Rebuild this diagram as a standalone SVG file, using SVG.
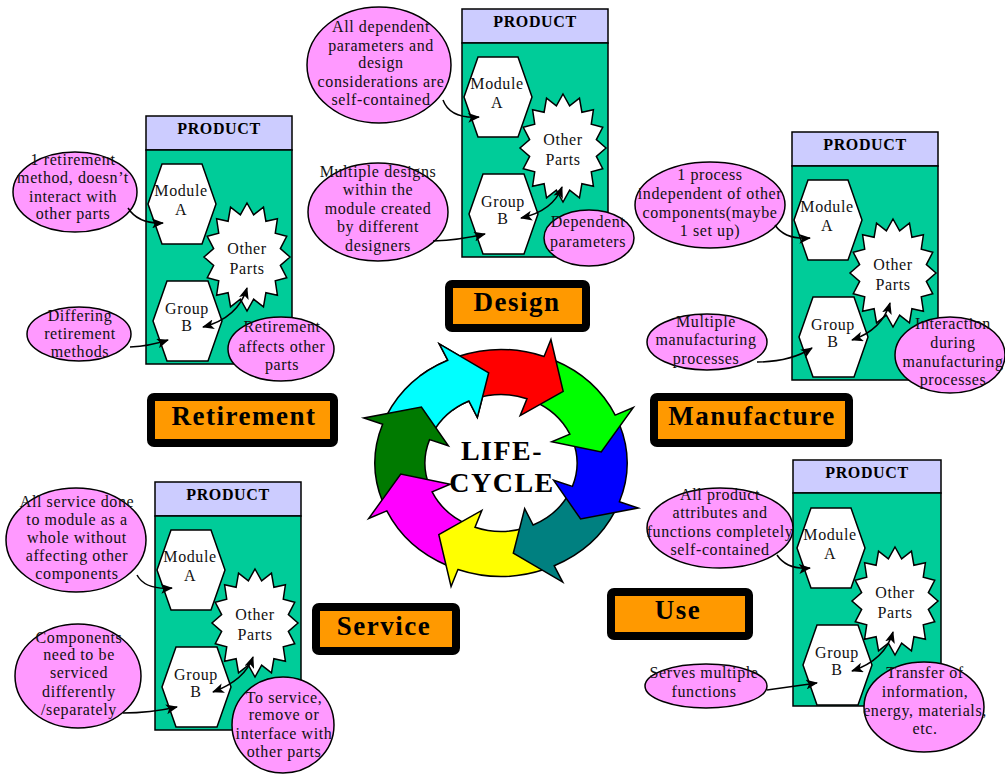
<svg xmlns="http://www.w3.org/2000/svg" width="1005" height="774" viewBox="0 0 1005 774">
<style>
.t{font-family:"Liberation Serif","Times New Roman",serif;font-size:16px;letter-spacing:0.6px;text-anchor:middle;fill:#111}
.pt{font-family:"Liberation Serif","Times New Roman",serif;font-size:16px;font-weight:bold;letter-spacing:0.6px;text-anchor:middle;fill:#000}
.lbl{font-family:"Liberation Serif","Times New Roman",serif;font-size:27px;font-weight:bold;letter-spacing:1.5px;text-anchor:middle;fill:#000}
.life{font-family:"Liberation Serif","Times New Roman",serif;font-size:28px;font-weight:bold;letter-spacing:1.5px;text-anchor:middle;fill:#000}
.hdr{fill:#CCCCFF;stroke:#000;stroke-width:1.5}
.bdy{fill:#00CC99;stroke:#000;stroke-width:1.5}
.hex{fill:#fff;stroke:#000;stroke-width:1.5}
.box{fill:#FF9900;stroke:#000;stroke-width:8}
.call{fill:#FF99FF;stroke:#000;stroke-width:1.5}
.con{fill:none;stroke:#000;stroke-width:1.5;marker-end:url(#ah)}
.dbl{fill:none;stroke:#000;stroke-width:1.5;marker-start:url(#ah);marker-end:url(#ah)}
</style>
<defs>
<marker id="ah" viewBox="0 0 12 10" refX="11" refY="5" markerWidth="12" markerHeight="10" markerUnits="userSpaceOnUse" orient="auto-start-reverse">
<path d="M0,0 L12,5 L0,10 L3,5 Z" fill="#000"/>
</marker>
<polygon id="hexA" points="2,88 16,48 56,48 70,88 56,128 16,128"/>
<polygon id="hexB" points="7,205 21,165 62,165 76,205 62,245 21,245"/>
<polygon id="star" points="0,-54 6.63,-42.17 16.46,-49.89 18.89,-35.75 30.41,-38.18 28.27,-23.89 39.73,-20.67 33.35,-8.39 43,0 33.35,8.39 39.73,20.67 28.27,23.89 30.41,38.18 18.89,35.75 16.46,49.89 6.63,42.17 0,54 -6.63,42.17 -16.46,49.89 -18.89,35.75 -30.41,38.18 -28.27,23.89 -39.73,20.67 -33.35,8.39 -43,0 -33.35,-8.39 -39.73,-20.67 -28.27,-23.89 -30.41,-38.18 -18.89,-35.75 -16.46,-49.89 -6.63,-42.17"/>
<path id="arw" d="M-43.09,-118.4 A126,126 0 0 1 43.09,-118.4 L49.93,-137.2 L62.19,-79.59 L19.15,-52.62 L25.99,-71.42 A76,76 0 0 0 -25.99,-71.42 Z" stroke="#000" stroke-width="1.5" vector-effect="non-scaling-stroke" stroke-linejoin="miter"/>
<clipPath id="wedge"><polygon points="0,0 -141.4,-168.5 0,-240 56.9,-212.5"/></clipPath>
</defs>

<!-- Life cycle -->
<g id="lifecycle">
<g transform="translate(501,463) scale(1,0.9)">
<use href="#arw" fill="#00FFFF" transform="rotate(315)"/>
<use href="#arw" fill="#007A00" transform="rotate(270)"/>
<use href="#arw" fill="#FF00FF" transform="rotate(225)"/>
<use href="#arw" fill="#FFFF00" transform="rotate(180)"/>
<use href="#arw" fill="#008080" transform="rotate(135)"/>
<use href="#arw" fill="#0000FF" transform="rotate(90)"/>
<use href="#arw" fill="#00FF00" transform="rotate(45)"/>
<use href="#arw" fill="#FF0000"/>
<g clip-path="url(#wedge)"><use href="#arw" fill="#00FFFF" transform="rotate(315)"/></g>
</g>
<text class="life" x="502" y="460">LIFE-</text>
<text class="life" x="502" y="492">CYCLE</text>
</g>

<!-- Phase labels -->
<g id="label-design"><rect class="box" x="449" y="284" width="137" height="44" rx="3"/><text class="lbl" x="517" y="311">Design</text></g>
<g id="label-retirement"><rect class="box" x="151" y="397" width="183" height="46" rx="3"/><text class="lbl" x="244" y="425">Retirement</text></g>
<g id="label-manufacture"><rect class="box" x="654" y="397" width="195" height="46" rx="3"/><text class="lbl" x="752" y="425">Manufacture</text></g>
<g id="label-service"><rect class="box" x="316" y="607" width="140" height="44" rx="3"/><text class="lbl" x="384" y="635">Service</text></g>
<g id="label-use"><rect class="box" x="611" y="592" width="138" height="44" rx="3"/><text class="lbl" x="678" y="619">Use</text></g>

<!-- Product panels -->
<g id="panel-design" transform="translate(462,9)">
<rect class="hdr" x="0" y="0" width="146" height="34"/><rect class="bdy" x="0" y="34" width="146" height="214"/>
<text class="pt" x="73" y="18">PRODUCT</text>
<use href="#hexA" class="hex"/><text class="t" x="35" y="80">Module</text><text class="t" x="35" y="99">A</text>
<use href="#star" class="hex" x="101" y="139"/><text class="t" x="101" y="136">Other</text><text class="t" x="101" y="156">Parts</text>
<use href="#hexB" class="hex"/><text class="t" x="41" y="198">Group</text><text class="t" x="41" y="215">B</text>
</g>
<g id="panel-retirement" transform="translate(146,116)">
<rect class="hdr" x="0" y="0" width="146" height="34"/><rect class="bdy" x="0" y="34" width="146" height="214"/>
<text class="pt" x="73" y="18">PRODUCT</text>
<use href="#hexA" class="hex"/><text class="t" x="35" y="80">Module</text><text class="t" x="35" y="99">A</text>
<use href="#star" class="hex" x="101" y="141"/><text class="t" x="101" y="138">Other</text><text class="t" x="101" y="158">Parts</text>
<use href="#hexB" class="hex"/><text class="t" x="41" y="198">Group</text><text class="t" x="41" y="215">B</text>
</g>
<g id="panel-manufacture" transform="translate(792,132)">
<rect class="hdr" x="0" y="0" width="146" height="34"/><rect class="bdy" x="0" y="34" width="146" height="214"/>
<text class="pt" x="73" y="18">PRODUCT</text>
<use href="#hexA" class="hex"/><text class="t" x="35" y="80">Module</text><text class="t" x="35" y="99">A</text>
<use href="#star" class="hex" x="101" y="141"/><text class="t" x="101" y="138">Other</text><text class="t" x="101" y="158">Parts</text>
<use href="#hexB" class="hex"/><text class="t" x="41" y="198">Group</text><text class="t" x="41" y="215">B</text>
</g>
<g id="panel-service" transform="translate(155,482)">
<rect class="hdr" x="0" y="0" width="146" height="34"/><rect class="bdy" x="0" y="34" width="146" height="214"/>
<text class="pt" x="73" y="18">PRODUCT</text>
<use href="#hexA" class="hex"/><text class="t" x="35" y="80">Module</text><text class="t" x="35" y="99">A</text>
<use href="#star" class="hex" x="100" y="141"/><text class="t" x="100" y="138">Other</text><text class="t" x="100" y="158">Parts</text>
<use href="#hexB" class="hex"/><text class="t" x="41" y="198">Group</text><text class="t" x="41" y="215">B</text>
</g>
<g id="panel-use" transform="translate(793,460)">
<rect class="hdr" x="0" y="0" width="148" height="33"/><rect class="bdy" x="0" y="33" width="148" height="213"/>
<text class="pt" x="74" y="18">PRODUCT</text>
<use href="#hexA" class="hex" x="2"/><text class="t" x="37" y="80">Module</text><text class="t" x="37" y="99">A</text>
<use href="#star" class="hex" x="102" y="141"/><text class="t" x="102" y="138">Other</text><text class="t" x="102" y="158">Parts</text>
<use href="#hexB" class="hex" x="3"/><text class="t" x="44" y="198">Group</text><text class="t" x="44" y="215">B</text>
</g>

<!-- Callouts: Design -->
<g id="note-design-1"><ellipse class="call" cx="379" cy="65" rx="72" ry="58"/>
<text class="t" x="381" y="32">All dependent</text><text class="t" x="381" y="51">parameters and</text><text class="t" x="381" y="68">design</text><text class="t" x="381" y="87">considerations are</text><text class="t" x="381" y="105">self-contained</text></g>
<g id="note-design-2"><ellipse class="call" cx="378" cy="212" rx="70" ry="49"/>
<text class="t" x="378" y="177">Multiple designs</text><text class="t" x="378" y="195">within the</text><text class="t" x="378" y="214">module created</text><text class="t" x="378" y="232">by different</text><text class="t" x="378" y="251">designers</text></g>
<g id="note-design-3"><ellipse class="call" cx="589" cy="238" rx="45" ry="28"/>
<text class="t" x="588" y="227">Dependent</text><text class="t" x="588" y="247">parameters</text></g>

<!-- Callouts: Retirement -->
<g id="note-ret-1"><ellipse class="call" cx="75" cy="192" rx="62" ry="40"/>
<text class="t" x="73" y="165">1 retirement</text><text class="t" x="73" y="183">method, doesn’t</text><text class="t" x="73" y="202">interact with</text><text class="t" x="73" y="219">other parts</text></g>
<g id="note-ret-2"><ellipse class="call" cx="79" cy="334" rx="52" ry="27"/>
<text class="t" x="80" y="321">Differing</text><text class="t" x="80" y="339">retirement</text><text class="t" x="80" y="357">methods</text></g>
<g id="note-ret-3"><ellipse class="call" cx="281" cy="349" rx="53" ry="32"/>
<text class="t" x="282" y="332">Retirement</text><text class="t" x="282" y="352">affects other</text><text class="t" x="282" y="370">parts</text></g>

<!-- Callouts: Manufacture -->
<g id="note-man-1"><ellipse class="call" cx="710" cy="205" rx="75" ry="43"/>
<text class="t" x="710" y="180">1 process</text><text class="t" x="710" y="199">independent of other</text><text class="t" x="710" y="218">components(maybe</text><text class="t" x="710" y="236">1 set up)</text></g>
<g id="note-man-2"><ellipse class="call" cx="707" cy="342" rx="60" ry="28"/>
<text class="t" x="706" y="327">Multiple</text><text class="t" x="706" y="345">manufacturing</text><text class="t" x="706" y="364">processes</text></g>
<g id="note-man-3"><ellipse class="call" cx="950" cy="355" rx="55" ry="38"/>
<text class="t" x="953" y="329">Interaction</text><text class="t" x="953" y="348">during</text><text class="t" x="953" y="367">manufacturing</text><text class="t" x="953" y="385">processes</text></g>

<!-- Callouts: Service -->
<g id="note-svc-1"><ellipse class="call" cx="76" cy="540" rx="70" ry="52"/>
<text class="t" x="77" y="507">All service done</text><text class="t" x="77" y="525">to module as a</text><text class="t" x="77" y="543">whole without</text><text class="t" x="77" y="561">affecting other</text><text class="t" x="77" y="579">components</text></g>
<g id="note-svc-2"><ellipse class="call" cx="78" cy="676" rx="63" ry="52"/>
<text class="t" x="79" y="643">Components</text><text class="t" x="79" y="660">need to be</text><text class="t" x="79" y="678">serviced</text><text class="t" x="79" y="697">differently</text><text class="t" x="79" y="715">/separately</text></g>
<g id="note-svc-3"><ellipse class="call" cx="283" cy="725" rx="51" ry="48"/>
<text class="t" x="284" y="703">To service,</text><text class="t" x="284" y="720">remove or</text><text class="t" x="284" y="739">interface with</text><text class="t" x="284" y="757">other parts</text></g>

<!-- Callouts: Use -->
<g id="note-use-1"><ellipse class="call" cx="720" cy="528" rx="73" ry="40"/>
<text class="t" x="720" y="500">All product</text><text class="t" x="720" y="518">attributes and</text><text class="t" x="720" y="537">functions completely</text><text class="t" x="720" y="555">self-contained</text></g>
<g id="note-use-2"><ellipse class="call" cx="706" cy="686" rx="61" ry="22"/>
<text class="t" x="704" y="678">Serves multiple</text><text class="t" x="704" y="697">functions</text></g>
<g id="note-use-3"><ellipse class="call" cx="924" cy="707" rx="60" ry="45"/>
<text class="t" x="925" y="678">Transfer of</text><text class="t" x="925" y="697">information,</text><text class="t" x="925" y="716">energy, materials,</text><text class="t" x="925" y="734">etc.</text></g>

<!-- Connectors -->
<g id="connectors">
<path class="con" d="M443,100 Q450,119 479,117"/>
<path class="con" d="M433,241 Q460,240 485,234"/>
<path class="dbl" d="M521,218 Q553,211 562,187"/>
<path class="con" d="M128,208 Q138,224 163,223"/>
<path class="con" d="M130,347 Q150,346 168,340"/>
<path class="dbl" d="M203,327 Q238,318 247,288"/>
<path class="con" d="M775,225 Q785,240 810,238"/>
<path class="con" d="M757,362 Q790,362 812,348"/>
<path class="dbl" d="M852,340 Q882,330 890,303"/>
<path class="con" d="M137,575 Q145,590 172,588"/>
<path class="con" d="M123,713 Q150,713 177,707"/>
<path class="dbl" d="M213,692 Q245,680 253,657"/>
<path class="con" d="M777,555 Q787,570 810,568"/>
<path class="con" d="M767,690 L817,683"/>
<path class="dbl" d="M852,671 Q885,660 893,632"/>
</g>
</svg>
